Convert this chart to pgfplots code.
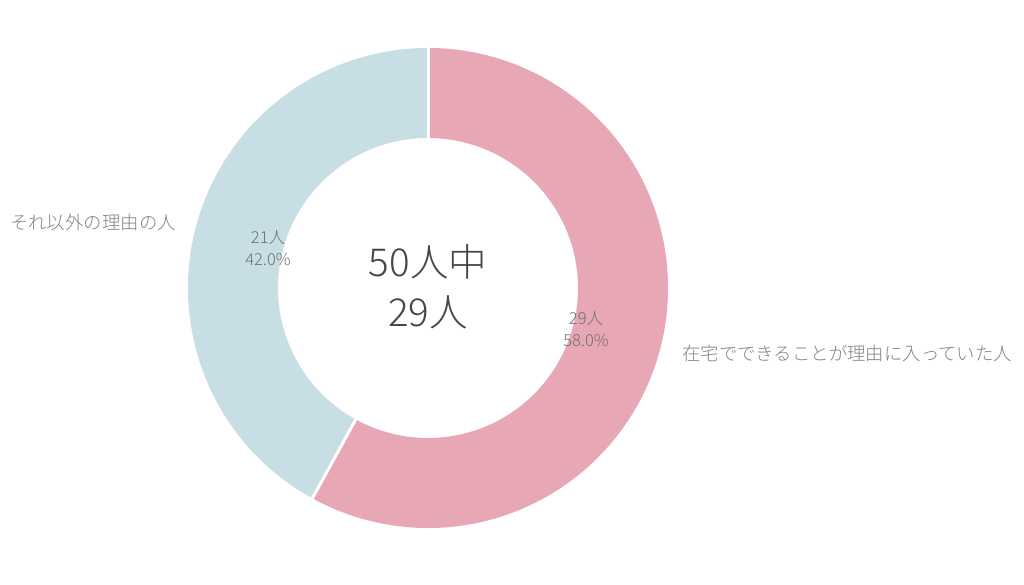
\documentclass[border=0pt]{standalone}
\usepackage{pgfplots}
\pgfplotsset{compat=1.18}
\usepackage{pgfplotstable}
\usepackage{fontspec}
\setmainfont{Noto Sans CJK JP}[UprightFont={* Light}]

\definecolor{pinkslice}{RGB}{232,167,181}
\definecolor{blueslice}{RGB}{200,222,229}
\definecolor{labelgray}{RGB}{130,130,130}
\definecolor{centergray}{RGB}{70,70,70}

% answers: in-home work among reasons / other reasons
\pgfplotstableread{
value
29
21
}\answers
\pgfplotstablegetelem{0}{value}\of\answers \let\yes\pgfplotsretval
\pgfplotstablegetelem{1}{value}\of\answers \let\no\pgfplotsretval
\pgfmathsetmacro{\total}{\yes+\no}
\pgfmathsetmacro{\cut}{90-360*\yes/\total}
\pgfmathsetmacro{\cutb}{\cut-360*\no/\total}

\begin{document}
\begin{tikzpicture}
\begin{axis}[x=1bp,y=1bp,xmin=0,xmax=1024,ymin=0,ymax=585,
  hide axis,scale only axis,clip=false]
\path (axis cs:0,0) rectangle (axis cs:1024,585);
% pink slice
\fill[pinkslice] (axis cs:{428+240*cos(90)},{297+240*sin(90)})
  arc[start angle=90,end angle=\cut,radius=240bp]
  -- (axis cs:{428+150*cos(\cut)},{297+150*sin(\cut)})
  arc[start angle=\cut,end angle=90,radius=150bp] -- cycle;
% blue slice
\fill[blueslice] (axis cs:{428+240*cos(\cut)},{297+240*sin(\cut)})
  arc[start angle=\cut,end angle=\cutb,radius=240bp]
  -- (axis cs:{428+150*cos(\cutb)},{297+150*sin(\cutb)})
  arc[start angle=\cutb,end angle=\cut,radius=150bp] -- cycle;
% separators
\draw[white,line width=3bp] (axis cs:{428+149*cos(90)},{297+149*sin(90)}) -- (axis cs:{428+241*cos(90)},{297+241*sin(90)});
\draw[white,line width=3bp] (axis cs:{428+149*cos(\cut)},{297+149*sin(\cut)}) -- (axis cs:{428+241*cos(\cut)},{297+241*sin(\cut)});
% centre text
\node[centergray,font=\fontsize{38.5bp}{50bp}\selectfont,align=center] at (axis cs:428,298) {50人中\\29人};
% slice labels
\node[labelgray!85!black,font=\fontsize{16.5bp}{22bp}\selectfont,align=center] at (axis cs:586,256) {29人\\58.0\%};
\node[labelgray!85!black,font=\fontsize{16.5bp}{22bp}\selectfont,align=center] at (axis cs:268,337) {21人\\42.0\%};
% category labels
\node[labelgray,font=\fontsize{18.4bp}{22bp}\selectfont,anchor=west,inner sep=0pt] at (axis cs:10,362) {それ以外の理由の人};
\node[labelgray,font=\fontsize{18.4bp}{22bp}\selectfont,anchor=west,inner sep=0pt] at (axis cs:682,232) {在宅でできることが理由に入っていた人};
\end{axis}
\end{tikzpicture}
\end{document}
